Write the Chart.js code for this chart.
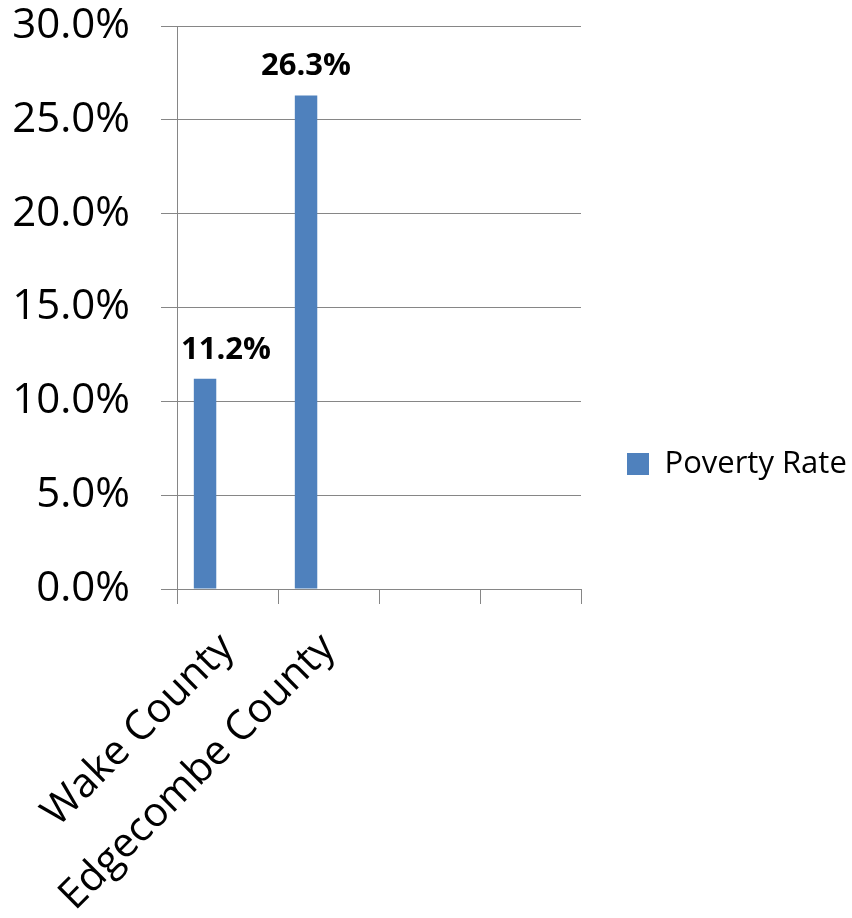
<!DOCTYPE html>
<html>
<head>
<meta charset="utf-8">
<script src="https://cdn.jsdelivr.net/npm/chart.js@4"></script>
<style>
html, body { margin: 0; padding: 0; background: #fff; }
canvas { display: block; }
</style>
</head>
<body>
<canvas id="mychart" width="852" height="918"></canvas>
<script>
// categories (the last two are empty slots in the original sheet)
const counties = ['Wake County', 'Edgecombe County', '', '']
const povertyRate = [11.2, 26.3, null, null]
const seriesName = 'Poverty Rate'
const yMin = 0
const yMax = 30
const yStep = 5

const FONT = 'Open Sans'
const BLUE = '#4F81BD'
const GRID = '#868686'

// bold value labels above the bars
const valueLabels = {
    id: 'valueLabels',
    afterDatasetsDraw(chart) {
        const ctx = chart.ctx
        const meta = chart.getDatasetMeta(0)
        ctx.save()
        ctx.font = 'bold 31px "' + FONT + '"'
        ctx.fillStyle = '#000000'
        ctx.textAlign = 'center'
        ctx.textBaseline = 'alphabetic'
        meta.data.forEach((bar, i) => {
            const v = povertyRate[i]
            if (v == null) return
            const text = v.toFixed(1) + '%'
            const w = ctx.measureText(text).width
            // keep the label clear of the value axis
            const x = Math.max(bar.x, chart.chartArea.left + w / 2 + 4)
            ctx.fillText(text, x, bar.y - 20)
        })
        ctx.restore()
    }
}

const ctx = document.getElementById('mychart')
var chart = new Chart(ctx, {
    type: 'bar',
    data: {
        labels: counties,
        datasets: [{
            label: seriesName,
            data: povertyRate,
            backgroundColor: BLUE,
            borderWidth: 0,
        }, {
            label: '',
            data: [null, null, null, null],
        }, {
            label: '',
            data: [null, null, null, null],
        }],
    },
    options: {
        responsive: false,
        animation: false,
        categoryPercentage: 0.667,
        barPercentage: 1,
        layout: {
            padding: { left: 12, top: 10, right: 0, bottom: 0 }
        },
        plugins: {
            tooltip: { enabled: false },
            legend: {
                position: 'right',
                maxWidth: 271,
                labels: {
                    filter: item => item.text !== '',
                    boxWidth: 22,
                    boxHeight: 22,
                    padding: 46,
                    color: '#000000',
                    font: { family: FONT, size: 31 },
                }
            }
        },
        scales: {
            x: {
                grid: {
                    offset: true,
                    drawOnChartArea: false,
                    color: GRID,
                    tickLength: 15,
                },
                border: { color: GRID },
                ticks: {
                    autoSkip: false,
                    minRotation: 45,
                    maxRotation: 45,
                    padding: 20,
                    color: '#000000',
                    font: { family: FONT, size: 41 },
                },
                afterFit(scale) { scale.height = 329 }
            },
            y: {
                min: yMin,
                max: yMax,
                grid: {
                    color: GRID,
                    tickLength: 16,
                },
                border: { color: GRID },
                ticks: {
                    stepSize: yStep,
                    padding: 31,
                    color: '#000000',
                    font: { family: FONT, size: 42 },
                    callback: v => v.toFixed(1) + '%',
                },
                afterFit(scale) {
                    scale.width = 165
                    scale.paddingTop = 26
                    scale.paddingBottom = 0
                }
            }
        },
    },
    plugins: [valueLabels]
});
</script>
</body>
</html>
